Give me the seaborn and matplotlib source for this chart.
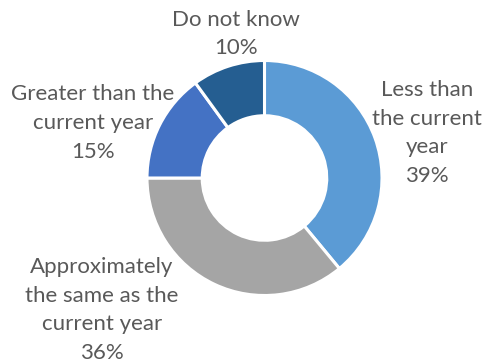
import matplotlib
matplotlib.use("Agg")
import matplotlib.pyplot as plt
import seaborn as sns

# Survey answers, shares in percent
categories = ["Less than\nthe current\nyear",
              "Approximately\nthe same as the\ncurrent year",
              "Greater than the\ncurrent year",
              "Do not know"]
shares = [39, 36, 15, 10]
colors = ["#5B9BD5", "#A5A5A5", "#4472C4", "#255E91"]

# Label anchor points in pixels (x from left, y from top)
label_px = [(427, 133), (102, 310), (93, 123), (236, 34)]

sns.set_theme(style="white")
plt.rcParams["font.family"] = ["Lato", "DejaVu Sans"]

W, H, DPI = 488, 364, 100
fig = plt.figure(figsize=(W / DPI, H / DPI), dpi=DPI)
ax = fig.add_axes([0, 0, 1, 1])

cx, cy, R = 264.5, 178.0, 117.5
ax.pie(shares, colors=colors, startangle=90, counterclock=False,
       radius=1.0, center=(0, 0),
       wedgeprops=dict(width=0.47, edgecolor="white", linewidth=2.2))

for cat, val, (px, py) in zip(categories, shares, label_px):
    x = (px - cx) / R
    y = (cy - py) / R
    ax.text(x, y, f"{cat}\n{val}%", ha="center", va="center",
            fontsize=16, color="#595959", linespacing=1.55)

ax.set_xlim(-cx / R, (W - cx) / R)
ax.set_ylim(-(H - cy) / R, cy / R)
ax.set_aspect("equal")
ax.axis("off")

fig.savefig("out.png", dpi=DPI, facecolor="white")
